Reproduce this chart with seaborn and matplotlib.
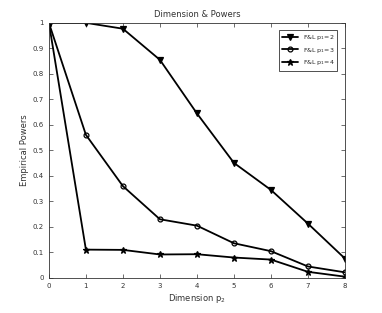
import numpy as np
import pandas as pd
import matplotlib
matplotlib.use("Agg")
import matplotlib.pyplot as plt
import seaborn as sns

# dimension p2 on the x axis
dims = [0, 1, 2, 3, 4, 5, 6, 7, 8]
# empirical powers for each p1
power_p1_2 = [1.0, 1.0, 0.977, 0.855, 0.645, 0.451, 0.345, 0.213, 0.076]
power_p1_3 = [1.0, 0.561, 0.36, 0.23, 0.205, 0.136, 0.105, 0.045, 0.022]
power_p1_4 = [1.0, 0.111, 0.11, 0.092, 0.093, 0.08, 0.072, 0.024, 0.005]
labels = ["F&L p$_1$=2", "F&L p$_1$=3", "F&L p$_1$=4"]

sns.set_style("ticks")
plt.rcParams["font.family"] = ["DejaVu Sans"]

fig = plt.figure(figsize=(3.82, 3.13), dpi=100)
ax = fig.add_axes([0.128, 0.112, 0.775, 0.815])

series = [power_p1_2, power_p1_3, power_p1_4]
markers = ["v", "o", "*"]
faces = ["black", "none", "black"]
sizes = [4, 3.5, 4.5]
for vals, lab, m, fc, ms in zip(series, labels, markers, faces, sizes):
    df = pd.DataFrame({"dim": dims, "power": vals})
    sns.lineplot(data=df, x="dim", y="power", ax=ax, color="black", lw=1.3,
                 marker=m, markerfacecolor=fc, markeredgecolor="black",
                 markersize=ms, markeredgewidth=0.9, label=lab)

ax.set_xlim(0, 8)
ax.set_ylim(0, 1)
ax.set_xticks(range(0, 9))
ax.set_xticklabels([str(i) for i in range(0, 9)])
yt = np.round(np.arange(0, 1.01, 0.1), 1)
ax.set_yticks(yt)
ax.set_yticklabels(["0"] + [f"{v:g}" for v in yt[1:-1]] + ["1"])
ax.tick_params(direction="in", length=3, width=0.5, labelsize=5,
               top=True, right=True, colors="#333333", labelcolor="#333333")
for s in ax.spines.values():
    s.set_linewidth(0.6)
    s.set_color("#333333")

ax.set_title("Dimension & Powers", fontsize=6, color="#333333", pad=4)
ax.set_xlabel("Dimension p$_2$", fontsize=6, color="#333333", labelpad=2)
ax.set_ylabel("Empirical Powers", fontsize=6, color="#333333", labelpad=3)

leg = ax.legend(loc="upper right", fontsize=4.5, frameon=True, fancybox=False,
                edgecolor="black", handlelength=2.5, borderpad=0.5,
                labelspacing=0.6, bbox_to_anchor=(0.985, 0.985))
leg.get_frame().set_linewidth(0.6)

fig.savefig("out.png", dpi=100)
